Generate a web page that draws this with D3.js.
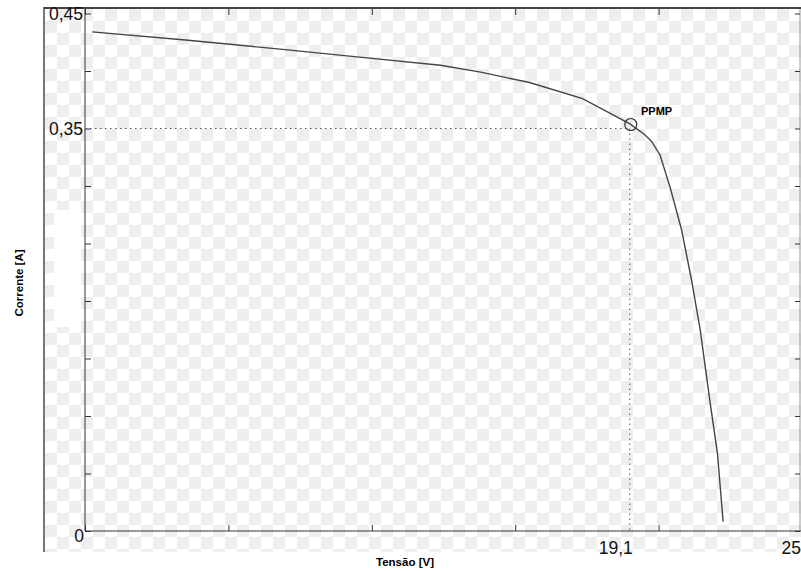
<!DOCTYPE html>
<html>
<head>
<meta charset="utf-8">
<script src="https://cdn.jsdelivr.net/npm/d3@7"></script>
<style>
body { margin: 0; background: #fff; }
svg { display: block; }
</style>
</head>
<body>
<div class="iv-plot"></div>
<script>
// curva I-V
const tensao = [0.25, 3.5, 6.8, 10, 12.4, 13.8, 15.5, 17.35, 19.0, 19.5, 19.75, 20.05, 20.4, 20.8, 21.15, 21.45, 21.8, 22.05, 22.25];
const corrente = [0.434, 0.427, 0.419, 0.411, 0.405, 0.399, 0.39, 0.376, 0.354, 0.345, 0.339, 0.327, 0.299, 0.262, 0.218, 0.175, 0.111, 0.068, 0.008];
const ppmp = { v: 19.1, i: 0.35 };
const xLabels = [19.1, 25];
const yLabels = [0.35, 0.45];
const yTicks = [0, 0.05, 0.1, 0.15, 0.2, 0.25, 0.3, 0.35, 0.4, 0.45];
const xTicks = [0, 5, 10, 15, 20, 25];

const width = 801;
const height = 571;
const fmt = d => String(d).replace('.', ',');
const fonte = 'Liberation Sans, Arial, sans-serif';

const svg = d3.select('.iv-plot')
	.append('svg')
	.attr('width', width)
	.attr('height', height)

// fundo xadrez
const pat = svg.append('defs').append('pattern')
	.attr('id', 'xadrez')
	.attr('patternUnits', 'userSpaceOnUse')
	.attr('x', 45).attr('y', 9)
	.attr('width', 24).attr('height', 24)
pat.append('rect').attr('width', 24).attr('height', 24).attr('fill', '#fff')
pat.append('rect').attr('x', 12).attr('y', 0).attr('width', 12).attr('height', 12).attr('fill', '#eeeeee')
pat.append('rect').attr('x', 0).attr('y', 12).attr('width', 12).attr('height', 12).attr('fill', '#eeeeee')

svg.append('rect')
	.attr('x', 45).attr('y', 8)
	.attr('width', width - 45).attr('height', 544)
	.attr('fill', 'url(#xadrez)')
svg.append('rect')
	.attr('x', 54).attr('y', 210)
	.attr('width', 27).attr('height', 117)
	.attr('fill', '#fff')

// moldura externa
svg.append('line')
	.attr('x1', 44).attr('x2', 44).attr('y1', 7).attr('y2', 552)
	.attr('stroke', '#777').attr('stroke-width', 2)
svg.append('line')
	.attr('x1', 44).attr('x2', width).attr('y1', 8).attr('y2', 8)
	.attr('stroke', '#444').attr('stroke-width', 2)

const x = d3.scaleLinear().domain([0, 25]).range([85, 802]);
const y = d3.scaleLinear().domain([0, 0.45]).range([531, 13.5]);

// eixos com marcas para dentro
svg.append('g')
	.attr('transform', 'translate(85,0)')
	.call(d3.axisLeft(y).tickValues(yTicks).tickSize(-6).tickFormat(''))
	.call(g => g.select('.domain').attr('d', 'M0,9V531').attr('stroke', '#333'))
svg.append('g')
	.attr('transform', 'translate(800,0)')
	.call(d3.axisRight(y).tickValues(yTicks).tickSize(-5).tickFormat(''))
	.call(g => g.select('.domain').attr('d', 'M0,9V531').attr('stroke', '#999'))
svg.append('g')
	.attr('transform', 'translate(0,531)')
	.call(d3.axisBottom(x).tickValues(xTicks).tickSize(-6).tickFormat(''))
	.call(g => g.select('.domain').attr('d', 'M85,0H801').attr('stroke', '#333'))
svg.append('g')
	.attr('transform', 'translate(0,9)')
	.call(d3.axisTop(x).tickValues(xTicks).tickSize(-6).tickFormat(''))
	.call(g => g.select('.domain').remove())
svg.selectAll('.tick line').attr('stroke', '#333')

// rótulos
svg.selectAll('.ylab')
	.data(yLabels)
	.enter()
	.append('text')
	.attr('class', 'ylab')
	.text(d => fmt(d))
	.attr('x', 83)
	.attr('y', d => y(d) + 6)
	.attr('text-anchor', 'end')
	.attr('font-family', fonte)
	.attr('font-size', 17.5)
	.attr('fill', '#111')

svg.selectAll('.xlab')
	.data(xLabels)
	.enter()
	.append('text')
	.attr('class', 'xlab')
	.text(d => fmt(d))
	.attr('x', d => Math.min(x(d), 801))
	.attr('y', 554)
	.attr('text-anchor', 'end')
	.attr('font-family', fonte)
	.attr('font-size', 17.5)
	.attr('fill', '#111')

svg.append('text')
	.text('0')
	.attr('x', 84)
	.attr('y', 542)
	.attr('text-anchor', 'end')
	.attr('font-family', fonte)
	.attr('font-size', 17.5)
	.attr('fill', '#111')

svg.append('text')
	.text('Tensão [V]')
	.attr('x', 405)
	.attr('y', 566)
	.attr('text-anchor', 'middle')
	.attr('font-family', fonte)
	.attr('font-weight', 'bold')
	.attr('font-size', 11.5)

svg.append('text')
	.text('Corrente [A]')
	.attr('transform', 'translate(23,283) rotate(-90)')
	.attr('text-anchor', 'middle')
	.attr('font-family', fonte)
	.attr('font-weight', 'bold')
	.attr('font-size', 11.5)

// linhas pontilhadas do PPMP
svg.append('line')
	.attr('x1', x(0)).attr('x2', x(ppmp.v) - 3)
	.attr('y1', y(ppmp.i)).attr('y2', y(ppmp.i))
	.attr('stroke', '#555').attr('stroke-dasharray', '1.5,3.5')
svg.append('line')
	.attr('x1', x(ppmp.v) - 3).attr('x2', x(ppmp.v) - 3)
	.attr('y1', y(ppmp.i)).attr('y2', y(0))
	.attr('stroke', '#555').attr('stroke-dasharray', '1.5,3.5')

// curva
const pts = tensao.map((v, i) => [v, corrente[i]]);
svg.append('path')
	.datum(pts)
	.attr('d', d3.line().x(d => x(d[0])).y(d => y(d[1])))
	.attr('fill', 'none')
	.attr('stroke', '#444')
	.attr('stroke-width', 1.4)

svg.append('circle')
	.attr('cx', x(ppmp.v) - 2)
	.attr('cy', y(ppmp.i) - 4)
	.attr('r', 6)
	.attr('fill', 'none')
	.attr('stroke', '#333')
	.attr('stroke-width', 1.2)

svg.append('text')
	.text('PPMP')
	.attr('x', 641)
	.attr('y', 115)
	.attr('font-family', fonte)
	.attr('font-weight', 'bold')
	.attr('font-size', 11)
</script>
</body>
</html>
